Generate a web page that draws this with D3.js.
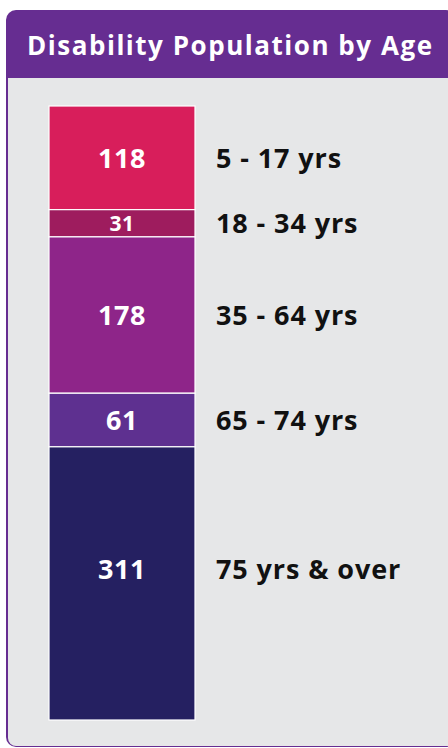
<html>
<script src='https://d3js.org/d3.v7.min.js'></script>
<style>
  body {margin: 0; background: #fff;}
  text {font-family: 'Open Sans', sans-serif; font-weight: bold;}
</style>
<body>
<svg width=448 height=748></svg>
<script>
var groups = ["5 - 17 yrs", "18 - 34 yrs", "35 - 64 yrs", "65 - 74 yrs", "75 yrs & over"];
var counts = [118, 31, 178, 61, 311];
var colors = ["#D81E5B", "#9E1C5E", "#8E2589", "#5E3090", "#252061"];

var svg = d3.select("svg");

// card
svg.append("rect").attr("x", 6).attr("y", 10).attr("width", 450).attr("height", 737)
   .attr("rx", 10).attr("fill", "#662D91");
svg.append("rect").attr("x", 8).attr("y", 78).attr("width", 450).attr("height", 668)
   .attr("rx", 8).attr("fill", "#E6E7E8");
svg.append("rect").attr("x", 8).attr("y", 78).attr("width", 450).attr("height", 20)
   .attr("fill", "#E6E7E8");
svg.append("text").attr("x", 27).attr("y", 55)
   .attr("textLength", 405).attr("lengthAdjust", "spacing")
   .attr("fill", "#fff").style("font-size", "26px").text("Disability Population by Age");

// stacked bar
var stack = [];
var acc = 0;
counts.forEach(function(v, i){ stack.push({g: groups[i], v: v, y0: acc, y1: acc + v, c: colors[i]}); acc += v; });

var y = d3.scaleLinear().domain([0, d3.sum(counts)]).range([106, 720]);
var x = d3.scaleBand().domain(["all"]).range([49, 195]);

var seg = svg.append("g").selectAll("g").data(stack).enter().append("g");
seg.append("rect")
   .attr("x", x("all")).attr("width", x.bandwidth())
   .attr("y", function(d){ return y(d.y0); })
   .attr("height", function(d){ return y(d.y1) - y(d.y0); })
   .attr("fill", function(d){ return d.c; })
   .attr("stroke", "#fff").attr("stroke-width", 1.2);

// label y: segment middle, but not too far below the segment top
function labelY(d){ return Math.min((y(d.y0) + y(d.y1)) / 2, y(d.y0) + 122); }

seg.append("text")
   .attr("x", x("all") + x.bandwidth() / 2)
   .attr("y", labelY).attr("dy", "0.36em")
   .attr("text-anchor", "middle").attr("fill", "#fff")
   .style("letter-spacing", "0.5px")
   .style("font-size", function(d){ return d.v < 50 ? "21px" : "27px"; })
   .text(function(d){ return d.v; });

seg.append("text")
   .attr("x", 216).attr("y", labelY).attr("dy", "0.36em")
   .attr("fill", "#111").style("font-size", "27px").style("letter-spacing", "0.9px")
   .text(function(d){ return d.g; });
</script>
</body>
</html>
